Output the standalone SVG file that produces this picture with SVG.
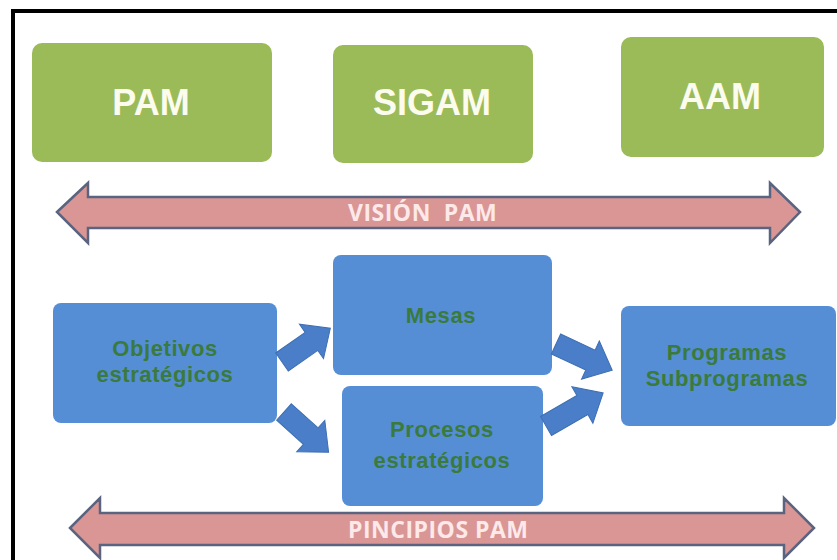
<svg xmlns="http://www.w3.org/2000/svg" width="837" height="560" viewBox="0 0 837 560">
<style>
.gbox{fill:#9bbb59;}
.bbox{fill:#558ed5;}
.gtxt{font-family:"Liberation Sans",Arial,sans-serif;font-weight:bold;font-size:36px;fill:#fbfbee;text-anchor:middle;}
.btxt{font-family:"Liberation Sans",Arial,sans-serif;font-weight:bold;font-size:22px;letter-spacing:0.6px;fill:#3a7a3c;text-anchor:middle;}
.band{fill:#d99694;stroke:#5a6380;stroke-width:2.5;stroke-linejoin:miter;}
.btext{font-family:"Open Sans","Liberation Sans",sans-serif;font-weight:bold;font-size:23px;letter-spacing:0.5px;fill:#fde9e9;}
.barrow{fill:#4a7ec8;stroke:#3e6fb2;stroke-width:1;}
</style>
<rect width="837" height="560" fill="#ffffff"/>
<path d="M13,560 L13,11 L837,11" fill="none" stroke="#000" stroke-width="4"/>

<g id="node-pam">
<rect class="gbox" x="32" y="43" width="240" height="119" rx="10"/>
<text class="gtxt" x="151" y="115">PAM</text>
</g>
<g id="node-sigam">
<rect class="gbox" x="333" y="45" width="200" height="118" rx="10"/>
<text class="gtxt" x="432" y="115">SIGAM</text>
</g>
<g id="node-aam">
<rect class="gbox" x="621" y="37" width="203" height="120" rx="10"/>
<text class="gtxt" x="720" y="109">AAM</text>
</g>

<g id="node-vision">
<path class="band" d="M57,212 L88,183 L88,197 L770,197 L770,183 L800,212 L770,243 L770,228 L88,228 L88,243 Z"/>
<text class="btext" x="348" y="221" xml:space="preserve">VISIÓN  PAM</text>
</g>

<g id="node-objetivos">
<rect class="bbox" x="53" y="303" width="224" height="120" rx="8"/>
<text class="btxt" x="165" y="356">Objetivos</text>
<text class="btxt" x="165" y="382">estratégicos</text>
</g>
<g id="node-mesas">
<rect class="bbox" x="333" y="255" width="219" height="120" rx="8"/>
<text class="btxt" x="441" y="323">Mesas</text>
</g>
<g id="node-procesos">
<rect class="bbox" x="342" y="386" width="201" height="120" rx="8"/>
<text class="btxt" x="442" y="437">Procesos</text>
<text class="btxt" x="442" y="468">estratégicos</text>
</g>
<g id="node-programas">
<rect class="bbox" x="621" y="306" width="215" height="120" rx="8"/>
<text class="btxt" x="727" y="360">Programas</text>
<text class="btxt" x="727" y="386">Subprogramas</text>
</g>

<g id="node-principios">
<path class="band" d="M70,528 L100,498 L100,513 L784,513 L784,498 L814,528 L784,558 L784,545 L100,545 L100,558 Z"/>
<text class="btext" x="348" y="538">PINCIPIOS PAM</text>
</g>

<g id="connectors">
<path class="barrow" transform="translate(282,362) rotate(-35)" d="M0,-11 L36,-11 L36,-21 L59,0 L36,21 L36,11 L0,11 Z"/>
<path class="barrow" transform="translate(284,412) rotate(42)" d="M0,-11 L36,-11 L36,-21 L60,0 L36,21 L36,11 L0,11 Z"/>
<path class="barrow" transform="translate(556,344) rotate(25)" d="M0,-11 L38,-11 L38,-21 L62,0 L38,21 L38,11 L0,11 Z"/>
<path class="barrow" transform="translate(546,426) rotate(-30)" d="M0,-11 L42,-11 L42,-21 L66,0 L42,21 L42,11 L0,11 Z"/>
</g>
</svg>
